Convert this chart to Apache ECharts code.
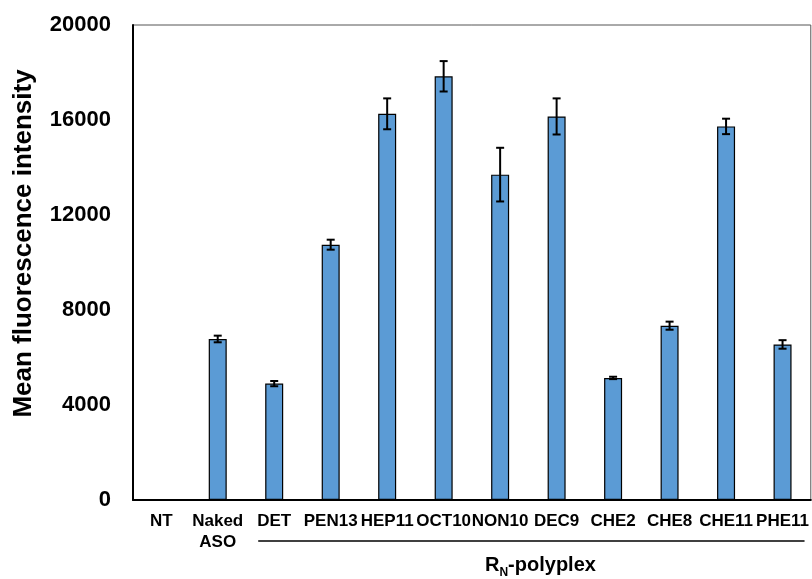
<!DOCTYPE html>
<html>
<head>
<meta charset="utf-8">
<script src="https://cdn.jsdelivr.net/npm/echarts@6/dist/echarts.min.js"></script>
<style>
html,body{margin:0;padding:0;background:#fff;}
#chart{width:812px;height:579px;}
</style>
</head>
<body>
<div id="chart"></div>
<script>
var categories = ['NT','Naked\nASO','DET','PEN13','HEP11','OCT10','NON10','DEC9','CHE2','CHE8','CHE11','PHE11'];
var meanValues = [40, 6780, 4900, 10750, 16260, 17840, 13700, 16150, 5140, 7340, 15730, 6550];
var errorValues = [0, 140, 110, 210, 650, 640, 1130, 760, 50, 170, 325, 180];
var yTicks = {min: 0, max: 20000, interval: 4000};
var yTitle = 'Mean fluorescence intensity';
var groupLabel = 'R_N-polyplex';
var groupFirst = 'DET';

var FONT = "'Liberation Sans', Arial, sans-serif";
var chart = echarts.init(document.getElementById('chart'), null, {renderer: 'canvas'});

var errData = categories.map(function (c, i) { return [i, meanValues[i], errorValues[i]]; });

var option = {
  animation: false,
  backgroundColor: '#fff',
  grid: {left: 133, right: 1, top: 25, bottom: 79, show: true, borderColor: '#555', borderWidth: 1},
  xAxis: {
    type: 'category',
    data: categories,
    axisLine: {lineStyle: {color: '#000', width: 2}},
    axisTick: {show: false},
    axisLabel: {color: '#000', fontFamily: FONT, fontWeight: 'bold', fontSize: 17, lineHeight: 21, margin: 11, interval: 0}
  },
  yAxis: {
    type: 'value',
    min: yTicks.min, max: yTicks.max, interval: yTicks.interval,
    splitLine: {show: false},
    axisLine: {show: true, lineStyle: {color: '#000', width: 2}},
    axisTick: {show: false},
    axisLabel: {color: '#000', fontFamily: FONT, fontWeight: 'bold', fontSize: 22, margin: 22,
      formatter: function (v) { return String(v); }},
    name: yTitle,
    nameLocation: 'middle',
    nameGap: 96,
    nameTextStyle: {color: '#000', fontFamily: FONT, fontWeight: 'bold', fontSize: 26, padding: [0, 0, 0, 38]}
  },
  series: [
    {
      type: 'bar',
      data: meanValues,
      barWidth: 18,
      z: 3,
      itemStyle: {color: '#5B9BD5', borderColor: '#000', borderWidth: 1.2}
    },
    {
      type: 'custom',
      data: errData,
      z: 10,
      renderItem: function (params, api) {
        var x = api.value(0), m = api.value(1), e = api.value(2);
        if (!e) return null;
        var top = api.coord([x, m + e]);
        var bot = api.coord([x, m - e]);
        var hw = 4;
        var st = {stroke: '#000', lineWidth: 2};
        return {
          type: 'group',
          children: [
            {type: 'line', shape: {x1: top[0], y1: top[1], x2: bot[0], y2: bot[1]}, style: st},
            {type: 'line', shape: {x1: top[0] - hw, y1: top[1], x2: top[0] + hw, y2: top[1]}, style: st},
            {type: 'line', shape: {x1: bot[0] - hw, y1: bot[1], x2: bot[0] + hw, y2: bot[1]}, style: st}
          ]
        };
      }
    }
  ]
};
chart.setOption(option);

// group underline and label, positioned from the category axis
var firstIdx = categories.indexOf(groupFirst);
var xStart = chart.convertToPixel({xAxisIndex: 0}, firstIdx) - 16;
var xEnd = chart.convertToPixel({xAxisIndex: 0}, categories.length - 1) + 22;
var parts = groupLabel.split('_');
chart.setOption({
  graphic: [
    {type: 'line', shape: {x1: xStart, y1: 541, x2: xEnd, y2: 541}, style: {stroke: '#000', lineWidth: 1.5}},
    {
      type: 'text', left: 485, top: 555,
      style: {
        text: '{m|' + parts[0] + '}{s|' + parts[1].charAt(0) + '}{m|' + parts[1].slice(1) + '}',
        rich: {
          m: {fontFamily: FONT, fontWeight: 'bold', fontSize: 20, fill: '#000', verticalAlign: 'bottom'},
          s: {fontFamily: FONT, fontWeight: 'bold', fontSize: 12, fill: '#000', verticalAlign: 'bottom', padding: [0, 0, -4, 0]}
        }
      }
    }
  ]
});
</script>
</body>
</html>
